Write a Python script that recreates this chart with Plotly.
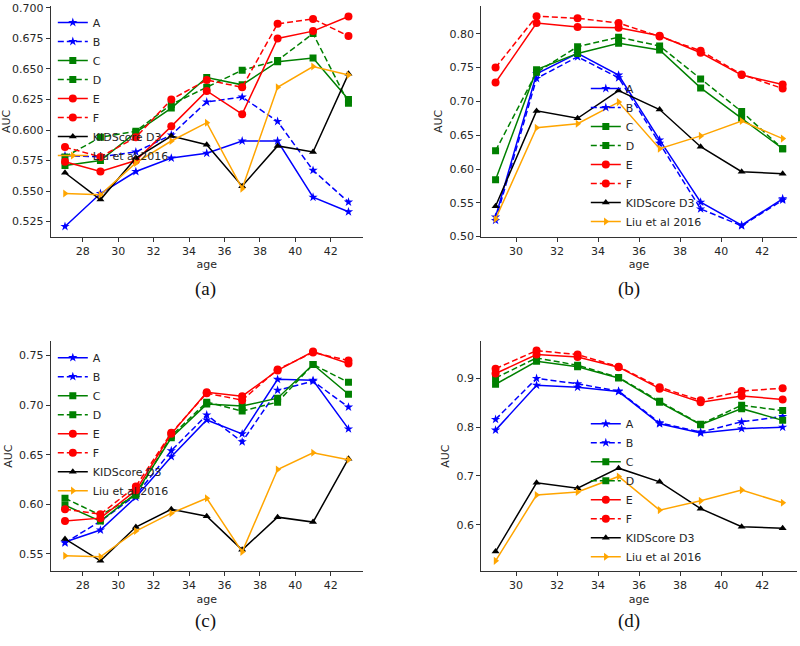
import plotly.graph_objects as go

# ---------------- data ----------------
ages_ac = [27, 29, 31, 33, 35, 37, 39, 41, 43]
ages_bd = [29, 31, 33, 35, 37, 39, 41, 43]

kid_ac = [0.565, 0.543, 0.577, 0.595, 0.588, 0.554, 0.587, 0.582, 0.646]
liu_ac = [0.548, 0.547, 0.573, 0.591, 0.606, 0.552, 0.635, 0.652, 0.645]
kid_bd = [0.545, 0.686, 0.675, 0.716, 0.688, 0.633, 0.596, 0.593]
liu_bd = [0.526, 0.661, 0.667, 0.699, 0.630, 0.649, 0.671, 0.645]

a_A = [0.521, 0.548, 0.566, 0.577, 0.581, 0.591, 0.591, 0.545, 0.533]
a_B = [0.579, 0.578, 0.582, 0.596, 0.623, 0.627, 0.607, 0.567, 0.541]
a_C = [0.571, 0.575, 0.598, 0.618, 0.643, 0.637, 0.656, 0.659, 0.625]
a_D = [0.578, 0.594, 0.599, 0.621, 0.635, 0.649, 0.657, 0.679, 0.622]
a_E = [0.574, 0.566, 0.575, 0.603, 0.632, 0.613, 0.675, 0.681, 0.693]
a_F = [0.586, 0.578, 0.594, 0.625, 0.641, 0.635, 0.687, 0.691, 0.677]

b_A = [0.529, 0.741, 0.771, 0.739, 0.643, 0.551, 0.517, 0.556]
b_B = [0.524, 0.734, 0.766, 0.735, 0.638, 0.541, 0.516, 0.554]
b_C = [0.584, 0.747, 0.771, 0.786, 0.776, 0.720, 0.675, 0.630]
b_D = [0.627, 0.743, 0.781, 0.795, 0.782, 0.733, 0.685, 0.630]
b_E = [0.728, 0.816, 0.810, 0.809, 0.797, 0.772, 0.739, 0.725]
b_F = [0.750, 0.826, 0.823, 0.816, 0.796, 0.775, 0.740, 0.719]

c_A = [0.562, 0.574, 0.607, 0.648, 0.685, 0.671, 0.726, 0.725, 0.676]
c_B = [0.561, 0.583, 0.609, 0.654, 0.690, 0.663, 0.715, 0.724, 0.698]
c_C = [0.599, 0.583, 0.611, 0.667, 0.701, 0.699, 0.707, 0.741, 0.711]
c_D = [0.606, 0.589, 0.609, 0.669, 0.703, 0.694, 0.703, 0.741, 0.723]
c_E = [0.583, 0.586, 0.614, 0.671, 0.713, 0.709, 0.735, 0.754, 0.742]
c_F = [0.595, 0.590, 0.618, 0.672, 0.712, 0.705, 0.736, 0.753, 0.745]

d_A = [0.794, 0.886, 0.882, 0.873, 0.807, 0.788, 0.797, 0.800]
d_B = [0.816, 0.900, 0.889, 0.874, 0.809, 0.790, 0.811, 0.822]
d_C = [0.888, 0.935, 0.924, 0.901, 0.851, 0.805, 0.838, 0.814]
d_D = [0.901, 0.942, 0.927, 0.902, 0.853, 0.806, 0.845, 0.834]
d_E = [0.910, 0.949, 0.944, 0.923, 0.879, 0.851, 0.864, 0.857]
d_F = [0.920, 0.957, 0.949, 0.924, 0.882, 0.855, 0.874, 0.880]

series_names = ["A", "B", "C", "D", "E", "F", "KIDScore D3", "Liu et al 2016"]
panel_labels = ["(a)", "(b)", "(c)", "(d)"]

# ---------------- styles ----------------
DASH = "6px,3px"
styles = {
    "A": dict(color="#0000ff", dash="solid", symbol="star", size=7),
    "B": dict(color="#0000ff", dash=DASH, symbol="star", size=7),
    "C": dict(color="#008000", dash="solid", symbol="square", size=7),
    "D": dict(color="#008000", dash=DASH, symbol="square", size=7),
    "E": dict(color="#ff0000", dash="solid", symbol="circle", size=8),
    "F": dict(color="#ff0000", dash=DASH, symbol="circle", size=8),
    "KIDScore D3": dict(color="#000000", dash="solid", symbol="triangle-up", size=7),
    "Liu et al 2016": dict(color="#ffa500", dash="solid", symbol="triangle-right", size=7),
}

panels = [
    dict(x=ages_ac, ys=[a_A, a_B, a_C, a_D, a_E, a_F, kid_ac, liu_ac]),
    dict(x=ages_bd, ys=[b_A, b_B, b_C, b_D, b_E, b_F, kid_bd, liu_bd]),
    dict(x=ages_ac, ys=[c_A, c_B, c_C, c_D, c_E, c_F, kid_ac, liu_ac]),
    dict(x=ages_bd, ys=[d_A, d_B, d_C, d_D, d_E, d_F, kid_bd, liu_bd]),
]

W, H = 800, 646
# plot-area boxes in pixels: (left, right, top, bottom)
boxes = [(48, 361, 2, 237), (480, 797, 2, 237), (48, 361, 343, 577), (480, 797, 343, 577)]
xranges = [[26.2, 43.8], [28.3, 43.7], [26.2, 43.8], [28.3, 43.7]]
yranges = [[0.5124, 0.7016], [0.4995, 0.8412], [0.5325, 0.7645], [0.5048, 0.9764]]
ydtick = [0.025, 0.05, 0.05, 0.1]
yfmt = [".3f", ".2f", ".2f", ".1f"]
legend_pos = [  # x, y (paper), yanchor
    (50 / W, 1 - 4 / H, "top"),
    (585 / W, 1 - 236 / H, "bottom"),
    (50 / W, 1 - 345 / H, "top"),
    (585 / W, 1 - 577 / H, "bottom"),
]
label_pos = [(203, 290), (628, 290), (203, 628), (628, 628)]

fig = go.Figure()
axis_color = "#333333"
tickfont = dict(family="DejaVu Sans", size=11, color="#262626")

layout = dict(
    width=W, height=H,
    margin=dict(l=0, r=0, t=0, b=0),
    paper_bgcolor="white", plot_bgcolor="white",
    font=dict(family="DejaVu Sans", size=11, color="#262626"),
    annotations=[],
)

for i, p in enumerate(panels):
    n = "" if i == 0 else str(i + 1)
    leg = "legend" if i == 0 else f"legend{i + 1}"
    for name, y in zip(series_names, p["ys"]):
        st = styles[name]
        fig.add_trace(go.Scatter(
            x=p["x"], y=y, name=name, mode="lines+markers",
            line=dict(color=st["color"], width=1.5, dash=st["dash"]),
            marker=dict(color=st["color"], symbol=st["symbol"], size=st["size"]),
            xaxis=f"x{n}", yaxis=f"y{n}", legend=leg,
        ))
    l, r, t, b = boxes[i]
    layout[f"xaxis{n}"] = dict(
        domain=[l / W, r / W], anchor=f"y{n}", range=xranges[i],
        tickmode="linear", tick0=28 if i in (0, 2) else 30, dtick=2,
        showline=True, linecolor=axis_color, linewidth=1, mirror=False,
        ticks="outside", ticklen=4, tickcolor=axis_color,
        showgrid=False, zeroline=False, tickfont=tickfont,
        ticklabeloverflow="allow",
        title=dict(text="age", font=dict(size=11), standoff=3),
    )
    layout[f"yaxis{n}"] = dict(
        domain=[1 - b / H, 1 - t / H], anchor=f"x{n}", range=yranges[i],
        tickmode="linear", tick0=0.5, dtick=ydtick[i], tickformat=yfmt[i],
        showline=True, linecolor=axis_color, linewidth=1, mirror=False,
        ticks="outside", ticklen=4, tickcolor=axis_color,
        showgrid=False, zeroline=False, tickfont=tickfont,
        ticklabeloverflow="allow",
        title=dict(text="AUC", font=dict(size=11), standoff=4),
    )
    lx, ly, ya = legend_pos[i]
    layout[leg] = dict(
        x=lx, y=ly, xanchor="left", yanchor=ya,
        bgcolor="rgba(0,0,0,0)", borderwidth=0,
        font=dict(family="DejaVu Sans", size=11, color="#262626"),
        itemwidth=30, tracegroupgap=0,
    )
    px_, py_ = label_pos[i]
    layout["annotations"].append(dict(
        text=panel_labels[i], x=px_ / W, y=1 - py_ / H, xref="paper", yref="paper",
        showarrow=False, xanchor="center", yanchor="middle",
        font=dict(family="Liberation Serif", size=19, color="#111111"),
    ))

fig.update_layout(**layout)
fig.write_html(
    "out.html",
    config={"displayModeBar": False},
    post_script="document.body.style.margin='0px';document.body.style.overflow='hidden';",
)
